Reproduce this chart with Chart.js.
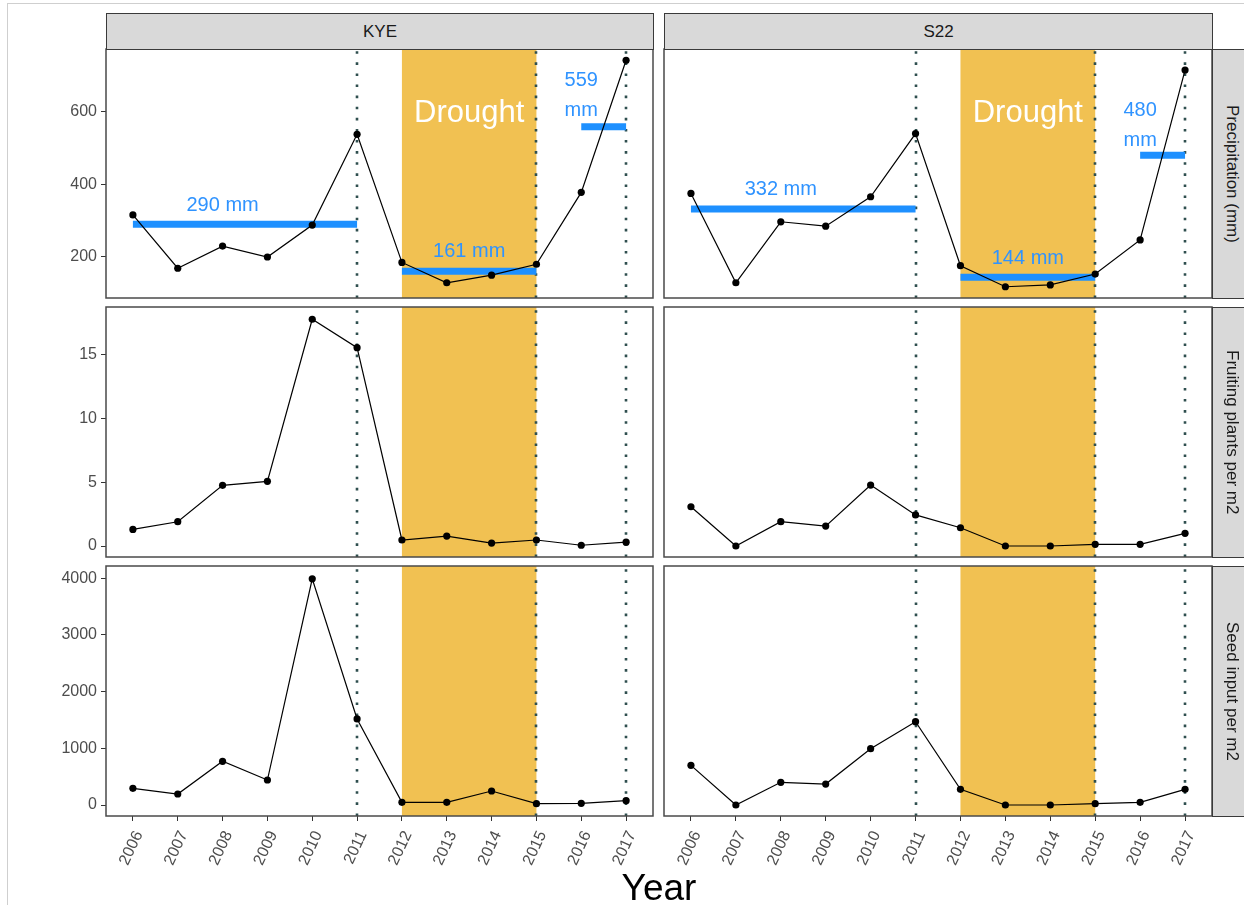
<!DOCTYPE html>
<html>
<head>
<meta charset="utf-8">
<script src="https://cdn.jsdelivr.net/npm/chart.js@4.4.1/dist/chart.umd.min.js"></script>
<style>
html,body{margin:0;padding:0;width:1244px;height:905px;overflow:hidden;background:#fff;font-family:"Liberation Sans",Arial,sans-serif;}
canvas{position:absolute;left:0;top:0;}
.frame{position:absolute;left:7px;top:3px;width:1300px;height:1000px;border:1px solid #cfcfcf;}
.strip{position:absolute;background:#d9d9d9;border:1px solid #3a3a3a;box-sizing:border-box;color:#1a1a1a;font-size:17px;display:flex;align-items:center;justify-content:center;white-space:nowrap;}
.vt{writing-mode:vertical-rl;}
.xtitle{position:absolute;left:459px;width:400px;top:868px;text-align:center;font-size:37px;line-height:40px;color:#000;}
</style>
</head>
<body>
<div class="frame"></div>
<div id="root"></div>
<div class="strip" style="left:106px;top:13px;width:548px;height:37px;">KYE</div>
<div class="strip" style="left:664px;top:13px;width:549px;height:37px;">S22</div>
<div class="strip vt" style="left:1212px;top:49px;width:40px;height:250px;">Precipitation (mm)</div>
<div class="strip vt" style="left:1212px;top:307px;width:40px;height:251px;">Fruiting plants per m2</div>
<div class="strip vt" style="left:1212px;top:566px;width:40px;height:251px;">Seed input per m2</div>
<div class="xtitle">Year</div>
<script>
// ---------- data ----------
const years = [2006,2007,2008,2009,2010,2011,2012,2013,2014,2015,2016,2017];
const kyePrecip = [316,169,230,200,288,538,185,129,150,180,378,742];
const s22Precip = [375,129,297,285,366,540,176,118,123,153,247,715];
const kyeFruit  = [1.3,1.9,4.75,5.06,17.74,15.52,0.47,0.78,0.23,0.47,0.06,0.3];
const s22Fruit  = [3.07,0.0,1.9,1.56,4.77,2.43,1.43,0.0,0.0,0.13,0.13,0.99];
const kyeSeed   = [295,194,771,441,3990,1518,47,47,247,24,29,77];
const s22Seed   = [700,0,400,370,994,1470,277,0,0,24,47,277];

const periodStart = [2006,2012,2016];
const periodEnd   = [2011,2015,2017];
const kyeMeans = [290,161,559];
const s22Means = [332,144,480];
const kyeLabelX = [2008,2013.5,2016];
const kyeLabelY = [343,214,646];
const s22LabelX = [2008,2013.5,2016];
const s22LabelY = [386,196,563];

const droughtStart = 2012, droughtEnd = 2015;
const vlineYears = [2011,2015,2017];
const droughtLabelX = 2013.5, droughtLabelY = 596;

const precipTicks = [200,400,600];
const fruitTicks  = [0,5,10,15];
const seedTicks   = [0,1000,2000,3000,4000];

// ---------- layout ----------
const FONT = '"Liberation Sans", Arial, sans-serif';
const W = 1244, H = 905;
const rows = [
  {top:49,  bottom:298, min:87,    max:773,  ticks:precipTicks, series:[kyePrecip,s22Precip], precip:true,  showX:false},
  {top:307, bottom:557, min:-0.86, max:18.7, ticks:fruitTicks,  series:[kyeFruit,s22Fruit],   precip:false, showX:false},
  {top:566, bottom:816, min:-194,  max:4217, ticks:seedTicks,   series:[kyeSeed,s22Seed],     precip:false, showX:true}
];
const cols = [
  {left:106, right:653,  showY:true,  means:kyeMeans, lx:kyeLabelX, ly:kyeLabelY},
  {left:664, right:1212, showY:false, means:s22Means, lx:s22LabelX, ly:s22LabelY}
];
const YW = 60, XH = 60;

const panelPlugin = {
  id: 'panel',
  beforeDatasetsDraw(chart) {
    const {ctx, chartArea: a, scales: {x}} = chart;
    ctx.save();
    ctx.beginPath(); ctx.rect(a.left, a.top, a.right - a.left, a.bottom - a.top); ctx.clip();
    const x0 = x.getPixelForValue(droughtStart), x1 = x.getPixelForValue(droughtEnd);
    ctx.fillStyle = '#F1C152';
    ctx.fillRect(x0, a.top, x1 - x0, a.bottom - a.top);
    ctx.strokeStyle = '#2F4F4F';
    ctx.lineWidth = 2.6;
    ctx.lineCap = 'butt';
    ctx.setLineDash([2.6, 8.5]);
    vlineYears.forEach(v => {
      const px = Math.round(x.getPixelForValue(v));
      ctx.beginPath(); ctx.moveTo(px, a.bottom); ctx.lineTo(px, a.top); ctx.stroke();
    });
    ctx.restore();
  },
  afterDatasetsDraw(chart, args, opts) {
    if (!opts.precip) return;
    const {ctx, scales: {x, y}} = chart;
    ctx.save();
    ctx.textAlign = 'center';
    ctx.textBaseline = 'middle';
    ctx.fillStyle = '#ffffff';
    ctx.font = '31px ' + FONT;
    ctx.fillText('Drought', x.getPixelForValue(droughtLabelX), y.getPixelForValue(droughtLabelY));
    ctx.fillStyle = '#2F93FF';
    ctx.font = '20px ' + FONT;
    opts.means.forEach((m, i) => {
      const px = x.getPixelForValue(opts.lx[i]);
      const py = y.getPixelForValue(opts.ly[i]);
      const lines = i === 2 ? [String(m), 'mm'] : [m + ' mm'];
      const lh = 30;
      lines.forEach((t, k) => {
        ctx.fillText(t, px, py + (k - (lines.length - 1) / 2) * lh);
      });
    });
    ctx.restore();
  },
  afterDraw(chart) {
    const {ctx, chartArea: a} = chart;
    ctx.save();
    ctx.strokeStyle = '#4a4a4a';
    ctx.lineWidth = 1.5;
    ctx.strokeRect(a.left, a.top, a.right - a.left, a.bottom - a.top);
    ctx.restore();
  }
};

const root = document.getElementById('root');
rows.forEach((r, ri) => {
  cols.forEach((c, ci) => {
    const cv = document.createElement('canvas');
    cv.width = W; cv.height = H;
    cv.style.width = W + 'px'; cv.style.height = H + 'px';
    root.appendChild(cv);
    const vals = r.series[ci];
    const datasets = [{
      data: years.map((yr, i) => ({x: yr, y: vals[i]})),
      borderColor: '#000000',
      borderWidth: 1.2,
      pointRadius: 3.6,
      pointBackgroundColor: '#000000',
      pointBorderWidth: 0,
      tension: 0,
      order: 0
    }];
    if (r.precip) {
      c.means.forEach((m, i) => {
        datasets.push({
          data: [{x: periodStart[i], y: m}, {x: periodEnd[i], y: m}],
          borderColor: '#1E90FF',
          borderWidth: 7,
          borderCapStyle: 'butt',
          pointRadius: 0,
          order: 1
        });
      });
    }
    new Chart(cv, {
      type: 'line',
      data: {datasets},
      plugins: [panelPlugin],
      options: {
        responsive: false,
        animation: false,
        devicePixelRatio: 1,
        layout: {padding: {
          left: c.showY ? c.left - YW : c.left,
          right: W - c.right,
          top: r.top,
          bottom: H - r.bottom - (r.showX ? XH : 0)
        }},
        plugins: {
          legend: {display: false},
          tooltip: {enabled: false},
          panel: {precip: r.precip, means: c.means, lx: c.lx, ly: c.ly}
        },
        scales: {
          x: {
            type: 'linear', min: 2005.4, max: 2017.6,
            display: r.showX,
            afterBuildTicks: s => { s.ticks = years.map(v => ({value: v})); },
            afterFit: s => { if (r.showX) s.height = XH; },
            grid: {drawOnChartArea: false, drawTicks: true, tickLength: 5, tickColor: '#333333', tickWidth: 1},
            border: {display: false},
            ticks: {autoSkip: false, minRotation: 65, maxRotation: 65, padding: 7, labelOffset: 6, color: '#4d4d4d',
                    font: {family: FONT, size: 16}, callback: v => String(v)}
          },
          y: {
            type: 'linear', min: r.min, max: r.max,
            display: c.showY,
            afterBuildTicks: s => { s.ticks = r.ticks.map(v => ({value: v})); },
            afterFit: s => { if (c.showY) s.width = YW; },
            grid: {drawOnChartArea: false, drawTicks: true, tickLength: 5, tickColor: '#333333', tickWidth: 1},
            border: {display: false},
            ticks: {padding: 4, color: '#4d4d4d', font: {family: FONT, size: 16}, callback: v => String(v)}
          }
        }
      }
    });
  });
});
</script>
</body>
</html>
